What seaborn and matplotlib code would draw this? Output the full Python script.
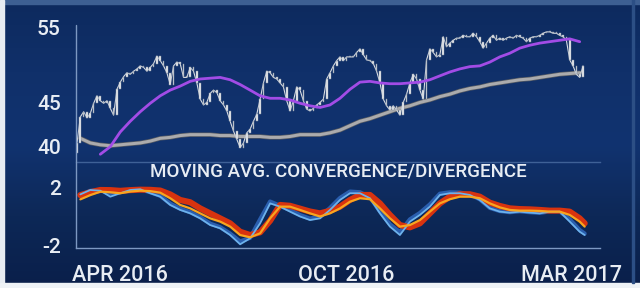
import matplotlib
matplotlib.use("Agg")
import matplotlib.pyplot as plt
import seaborn as sns
import numpy as np
import pandas as pd
from matplotlib import markers
from matplotlib.lines import Line2D
from matplotlib.patches import Rectangle
from matplotlib.colors import LinearSegmentedColormap
from matplotlib.ticker import NullLocator
import matplotlib.patheffects as pe

# ---------------- data ----------------
first_open = 39.3
close = [
    40.4, 43.3, 43.9, 43.2, 43.7, 44.9, 45.8, 45.2, 44.9, 45.2, 44.3, 43.5, 46.6, 47.5, 48.2, 48.7,
    48.5, 48.9, 49.2, 49.6, 49.4, 48.9, 49.4, 49.9, 50.9, 50.3, 49.6, 48.7, 47.2, 49.6, 50.1, 49.9,
    48.1, 48.1, 49.4, 48.9, 47.4, 45.4, 44.7, 45.0, 46.1, 46.5, 46.2, 45.2, 44.7, 44.0, 42.8, 41.7,
    40.8, 39.9, 40.4, 41.5, 41.9, 42.8, 43.6, 45.4, 47.4, 48.9, 48.7, 48.1, 47.9, 47.4, 46.9, 45.2,
    44.0, 45.2, 46.9, 46.5, 45.2, 44.2, 44.0, 44.3, 44.7,
    45.0, 45.4, 47.9, 48.7, 49.6, 50.3, 50.8, 50.3, 50.8, 50.8, 50.8, 51.4, 51.9, 51.1, 50.4, 50.3,
    49.9, 48.9, 47.4, 45.4, 44.6, 44.1, 44.6, 44.1, 43.5, 45.0, 46.0, 47.4, 48.5, 47.9, 46.5, 45.4,
    50.4, 51.9, 51.4, 50.8, 51.1, 53.6, 52.2, 52.7, 53.1, 53.4, 53.4, 53.8, 53.6, 53.6, 54.1, 53.6,
    52.9, 52.0, 52.7, 53.4, 53.8, 53.1, 53.4, 53.1, 53.4, 53.6, 53.4, 53.8, 53.6, 53.4, 52.9, 53.4,
    53.6, 53.6, 53.8, 54.1, 54.3, 54.3, 54.1, 54.1, 53.8, 53.6, 53.1, 50.4, 49.6, 48.5, 48.1, 49.6,
]
sma200 = [
    40.9, 40.4, 40.2, 40.1, 40.2, 40.3, 40.4, 40.6, 40.9, 41.0, 41.2, 41.3, 41.3, 41.3, 41.2, 41.2,
    41.1, 41.1, 41.1, 41.0, 41.0, 41.1, 41.3, 41.3, 41.3, 41.5, 41.8, 42.3, 42.8, 43.1, 43.5, 43.9,
    44.3, 44.6, 45.0, 45.3, 45.7, 46.0, 46.4, 46.7, 46.9, 47.2, 47.4, 47.6, 47.8, 47.9, 48.1, 48.3,
    48.5, 48.6, 48.7,
]
sma50 = [
    np.nan, np.nan, 39.2, 40.0, 41.6, 42.8, 43.9, 44.9, 45.8, 46.5, 47.0, 47.6, 47.9, 48.0, 48.1, 47.8,
    47.2, 46.5, 45.8, 45.5, 45.5, 45.3, 44.9, 44.6, 44.4, 44.7, 45.5, 46.6, 47.5, 47.6, 47.4, 47.3,
    47.3, 47.4, 47.5, 47.8, 48.3, 48.8, 49.2, 49.5, 49.6, 50.1, 50.8, 51.3, 52.0, 52.4, 52.7, 52.9,
    53.1, 53.3, 52.9,
]
macd_fast = [  # light blue
    1.55, 1.86, 1.81, 1.39, 1.63, 1.86, 1.91, 1.63, 1.39, 0.81, 0.46, 0.22, -0.13, -0.60, -0.83, -1.30,
    -1.95, -1.53, -0.48, 0.92, 0.69, 0.34, 0.0, -0.25, -0.13, 0.46, 1.16, 1.63, 1.63, 1.28, 0.22, -0.71,
    -1.30, -0.36, 0.11, 0.69, 1.51, 1.63, 1.63, 1.51, 1.16, 0.57, 0.34, 0.27, 0.34, 0.27, 0.22, 0.34,
    0.34, -0.36, -1.07, -1.30,
]
macd_signal = [  # orange
    1.2, 1.5, 1.74, 1.7, 1.63, 1.75, 1.81, 1.78, 1.67, 1.28, 0.81, 0.57, 0.22, -0.13, -0.36, -0.71,
    -1.30, -1.46, -1.18, -0.13, 0.69, 0.69, 0.46, 0.22, 0.0, 0.22, 0.57, 1.04, 1.28, 1.21, 0.57, -0.13,
    -0.71, -0.60, -0.25, 0.34, 0.92, 1.21, 1.39, 1.39, 1.28, 0.92, 0.64, 0.46, 0.41, 0.41, 0.39, 0.34,
    0.34, 0.11, -0.36, -0.71,
]
macd_slow = [  # red band
    1.5, 1.7, 1.86, 1.85, 1.8, 1.85, 1.88, 1.87, 1.82, 1.55, 1.16, 1.0, 0.57, 0.22, -0.13, -0.48,
    -1.07, -1.30, -1.11, -0.3, 0.81, 0.75, 0.55, 0.35, 0.22, 0.4, 0.69, 1.16, 1.51, 1.51, 0.92, 0.11,
    -0.60, -0.76, -0.48, 0.22, 0.92, 1.39, 1.56, 1.56, 1.39, 0.97, 0.74, 0.57, 0.52, 0.50, 0.46, 0.41,
    0.41, 0.34, -0.13, -0.48,
]
macd_band = [  # dark blue band
    1.5, 1.8, 1.85, 1.6, 1.7, 1.85, 1.9, 1.7, 1.45, 0.9, 0.55, 0.3, -0.05, -0.5, -0.75, -1.2,
    -1.75, -1.5, -0.2, 1.05, 0.75, 0.45, 0.1, -0.15, 0.0, 0.6, 1.3, 1.75, 1.7, 1.35, 0.35, -0.55,
    -1.1, -0.2, 0.25, 0.85, 1.6, 1.7, 1.68, 1.55, 1.2, 0.6, 0.38, 0.3, 0.36, 0.3, 0.25, 0.36,
    0.36, -0.2, -0.95, -1.2,
]
price_ticks = [40, 45, 55]
price_tick_labels = ["40", "45", "55"]
macd_ticks = [-2, 2]
macd_tick_labels = ["-2", "2"]
date_ticks = [13, 81, 148.5]
date_tick_labels = ["APR 2016", "OCT 2016", "MAR 2017"]
panel_title = "MOVING AVG. CONVERGENCE/DIVERGENCE"

# ---------------- frames ----------------
day = np.arange(len(close))
ma_day = np.arange(1, 152, 3)
macd_day = np.append(ma_day, 152.5)
prev = [first_open] + close[:-1]
candles = pd.DataFrame({"day": day, "close": close, "prev": prev})
candles["low"] = candles[["close", "prev"]].min(axis=1)
candles["body"] = (candles["close"] - candles["prev"]).abs().clip(lower=0.15)
ma = pd.DataFrame({"day": ma_day, "sma200": sma200, "sma50": sma50})
macd = pd.DataFrame({"day": macd_day, "fast": macd_fast, "signal": macd_signal,
                     "slow": macd_slow, "band": macd_band})

# ---------------- style ----------------
sns.set_theme(style="dark")
plt.rcParams["font.family"] = ["Roboto", "DejaVu Sans"]
TXT = "#e8edf4"
AXC = "#7d98c2"

W, H = 640, 288
fig = plt.figure(figsize=(6.4, 2.88), dpi=100)
fig.patch.set_facecolor("#0f2d63")

bg = fig.add_axes([0, 0, 1, 1], zorder=-10)
cmap = LinearSegmentedColormap.from_list(
    "bg", ["#0a1f4a", "#0d2857", "#113370", "#10306a", "#0d2a5e"])
grad = np.linspace(0, 1, 256).reshape(-1, 1)
bg.imshow(grad, aspect="auto", cmap=cmap, extent=[0, 1, 0, 1], origin="lower")
bg.add_patch(Rectangle((0, 1 - 4 / H), 1, 4 / H, color="#3d5f92", transform=bg.transAxes))
bg.add_patch(Rectangle((0, 0), 4 / W, 1, color="#e7ecf2", transform=bg.transAxes))
bg.add_patch(Rectangle((0, 0), 1, 5 / H, color="#eef2f6", transform=bg.transAxes))
bg.add_patch(Rectangle((632 / W, 5 / H), 2 / W, 1, color="#2c4f85", transform=bg.transAxes))
bg.set_xlim(0, 1)
bg.set_ylim(0, 1)
bg.axis("off")

left, width = 76 / W, 524 / W
ax1 = fig.add_axes([left, 1 - 162 / H, width, 149 / H])
ax2 = fig.add_axes([left, 1 - 248 / H, width, 70 / H])
for ax in (ax1, ax2):
    ax.set_facecolor("none")
    ax.grid(False)
    for s in ax.spines.values():
        s.set_visible(False)
    ax.set_xlim(-0.3, 157.1)

# ---------------- price panel ----------------
ax1.set_yscale("log")
ax1.set_ylim(38.4, 57.1)
sns.lineplot(data=ma, x="day", y="sma200", ax=ax1, color="#ababad", lw=2.2, zorder=2,
             path_effects=[pe.Stroke(linewidth=3.2, foreground="#555a63"), pe.Normal()])
sns.lineplot(data=candles, x="day", y="close", ax=ax1, color="#d9dde3", lw=0.8, zorder=2.5)
ax1.bar(candles["day"], candles["body"], bottom=candles["low"], width=0.5,
        color="#f4f6f8", edgecolor="#7e8a9b", linewidth=0.35, zorder=3)
sns.lineplot(data=ma, x="day", y="sma50", ax=ax1, color="#a24ce6", lw=2.0, zorder=4)
ax1.set_yticks(price_ticks, labels=price_tick_labels)
ax1.yaxis.set_minor_locator(NullLocator())
ax1.set_xticks([])
ax1.spines["bottom"].set_visible(True)
ax1.spines["bottom"].set_color("#3f6197")
ax1.spines["bottom"].set_linewidth(1.0)

# ---------------- MACD panel ----------------
ax2.set_ylim(-2.21, 2.70)
sns.lineplot(data=macd, x="day", y="band", ax=ax2, color="#2a5eae", lw=3.0, zorder=2)
sns.lineplot(data=macd, x="day", y="slow", ax=ax2, color="#d8330f", lw=4.4, zorder=3)
sns.lineplot(data=macd, x="day", y="fast", ax=ax2, color="#6db2ec", lw=1.3, zorder=4)
sns.lineplot(data=macd, x="day", y="signal", ax=ax2, color="#f8a51f", lw=1.6, zorder=5)
ax2.set_yticks(macd_ticks, labels=macd_tick_labels)
ax2.set_xticks(date_ticks, labels=date_tick_labels)
ax2.spines["bottom"].set_visible(True)
ax2.spines["bottom"].set_color(AXC)
ax2.spines["bottom"].set_linewidth(1.0)

for ax in (ax1, ax2):
    ax.set_xlabel("")
    ax.set_ylabel("")
    ax.tick_params(axis="y", colors=TXT, labelsize=15, pad=7, length=4, width=0)
    for lab in ax.get_yticklabels():
        lab.set_fontweight("medium")
    for t in ax.yaxis.get_major_ticks():
        t.tick1line.set_marker(markers.CARETLEFTBASE)
        t.tick1line.set_markersize(3.5)
        t.tick1line.set_markerfacecolor("#c9d6e8")
        t.tick1line.set_markeredgecolor("#c9d6e8")

ax2.tick_params(axis="x", colors=TXT, labelsize=15.5, pad=8, length=4, width=0)
for lab in ax2.get_xticklabels():
    lab.set_fontweight("medium")
for t in ax2.xaxis.get_major_ticks():
    t.tick1line.set_marker(markers.CARETDOWNBASE)
    t.tick1line.set_markersize(3.5)
    t.tick1line.set_markerfacecolor("#c9d6e8")
    t.tick1line.set_markeredgecolor("#c9d6e8")

# continuous left axis line
fig.add_artist(Line2D([left, left], [1 - 248 / H, 1 - 25 / H], color=AXC, lw=1.0,
                      transform=fig.transFigure))

fig.text(338 / W, 1 - 172 / H, panel_title, color=TXT, fontsize=13.5,
         fontweight="medium", ha="center", va="center")

fig.savefig("out.png", dpi=100, facecolor=fig.get_facecolor())
